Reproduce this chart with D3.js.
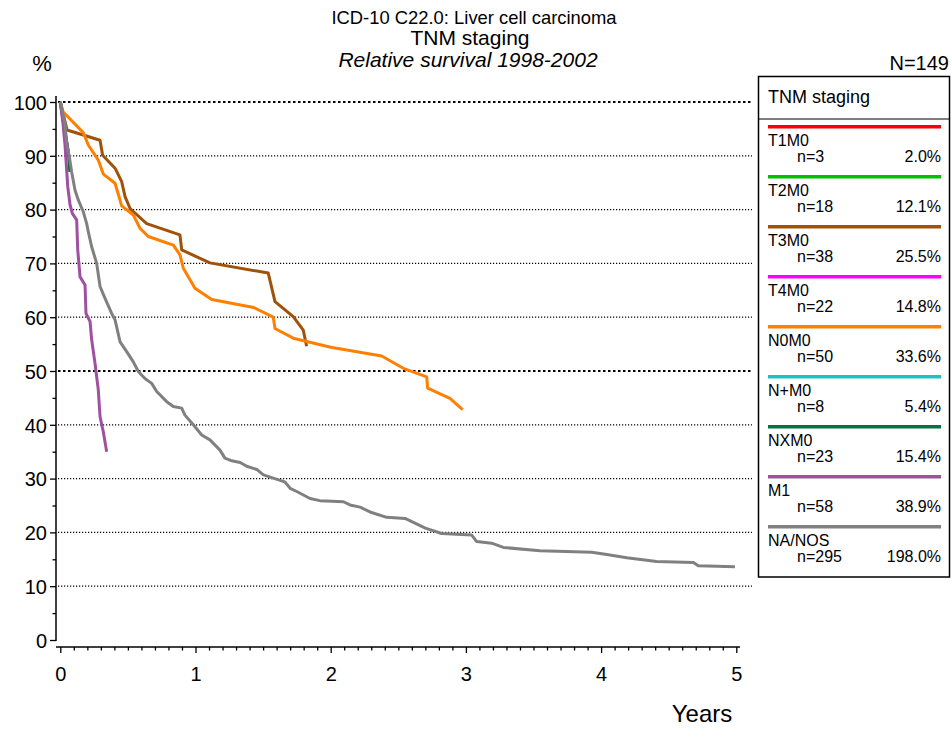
<!DOCTYPE html>
<html>
<head>
<meta charset="utf-8">
<script src="https://cdn.jsdelivr.net/npm/d3@7"></script>
<style>
  html, body { margin: 0; padding: 0; background: #fff; }
  svg { display: block; font-family: "Liberation Sans", Arial, sans-serif; }
</style>
</head>
<body>
<svg id="chart" width="951" height="729"></svg>
<script>
// ---- Data ----
const seriesNames = ["T1M0", "T2M0", "T3M0", "T4M0", "N0M0", "N+M0", "NXM0", "M1", "NA/NOS"];
const seriesCounts = [3, 18, 38, 22, 50, 8, 23, 58, 295];
const seriesPercents = ["2.0%", "12.1%", "25.5%", "14.8%", "33.6%", "5.4%", "15.4%", "38.9%", "198.0%"];
const seriesColors = ["#ff0000", "#00c000", "#a0520a", "#ff00ff", "#ff8000", "#20c0c0", "#0a7040", "#a050a0", "#808080"];

// curves: [years, relative survival %]
const t1m0Curve = [[0, 100]];
const t2m0Curve = [[0, 100]];
const t3m0Curve = [[0, 100], [0.05, 94.8], [0.294, 92.9], [0.313, 90.1], [0.405, 87.7], [0.454, 85.2],
  [0.479, 82.4], [0.516, 80.2], [0.639, 77.4], [0.885, 75.3], [0.898, 72.5], [1.107, 70.1],
  [1.538, 68.2], [1.588, 62.9], [1.723, 60.1], [1.797, 57.6], [1.822, 54.6]];
const t4m0Curve = [[0, 100], [0.058, 90.9]];
const n0m0Curve = [[0, 100], [0.02, 98.2], [0.17, 94.3], [0.207, 92], [0.281, 89.2], [0.318, 86.6],
  [0.405, 84.9], [0.454, 80.7], [0.54, 79], [0.59, 76.5], [0.651, 75], [0.836, 73.4], [0.885, 71.6],
  [0.91, 69.1], [0.996, 65.4], [1.12, 63.3], [1.43, 61.8], [1.575, 60], [1.588, 57.9], [1.723, 56.1],
  [2.0, 54.4], [2.377, 52.8], [2.537, 50.5], [2.71, 48.9], [2.717, 46.8], [2.882, 44.9], [2.976, 42.8]];
const nplusm0Curve = [[0, 100], [0.03, 96]];
const nxm0Curve = [[0, 100], [0.06, 90.5], [0.07, 87]];
const m1Curve = [[0, 100], [0.02, 96], [0.035, 92], [0.047, 87.4], [0.055, 84.3], [0.072, 80.9],
  [0.089, 79.3], [0.121, 78.1], [0.129, 72.5], [0.146, 67.5], [0.183, 66], [0.19, 60.7], [0.22, 59.2],
  [0.232, 55.8], [0.257, 51.4], [0.281, 46.5], [0.294, 41.5], [0.318, 38.7], [0.343, 35]];
const naNosCurve = [[0, 100], [0.035, 96], [0.047, 92.3], [0.067, 89.8], [0.084, 87], [0.109, 83.6],
  [0.133, 81.8], [0.17, 79.6], [0.195, 77.4], [0.207, 75.9], [0.232, 73.1], [0.269, 70], [0.294, 65.7],
  [0.331, 63.5], [0.38, 60.7], [0.405, 59.5], [0.442, 55.4], [0.491, 53.6], [0.54, 51.7], [0.577, 49.9],
  [0.626, 48.6], [0.676, 47.7], [0.713, 46.2], [0.787, 44.3], [0.836, 43.4], [0.898, 43.1], [0.922, 41.8],
  [0.984, 40], [1.046, 38.1], [1.107, 37.2], [1.181, 35.3], [1.218, 33.8], [1.268, 33.3], [1.33, 33],
  [1.379, 32.3], [1.453, 31.7], [1.502, 30.7], [1.575, 30.1], [1.66, 29.4], [1.7, 28.2], [1.749, 27.6],
  [1.847, 26.3], [1.92, 25.9], [2.094, 25.7], [2.143, 25.1], [2.217, 24.7], [2.291, 23.8], [2.414, 22.8],
  [2.55, 22.6], [2.70, 20.8], [2.82, 19.8], [3.043, 19.5], [3.08, 18.3], [3.19, 18], [3.277, 17.2],
  [3.548, 16.6], [3.931, 16.3], [4.042, 15.9], [4.19, 15.3], [4.41, 14.6], [4.682, 14.4], [4.719, 13.8],
  [4.99, 13.6]];
const seriesCurves = [t1m0Curve, t2m0Curve, t3m0Curve, t4m0Curve, n0m0Curve, nplusm0Curve, nxm0Curve, m1Curve, naNosCurve];

const xTickValues = [0, 1, 2, 3, 4, 5];
const yTickValues = [0, 10, 20, 30, 40, 50, 60, 70, 80, 90, 100];

const titleLine1 = "ICD-10 C22.0: Liver cell carcinoma";
const titleLine2 = "TNM staging";
const titleLine3 = "Relative survival 1998-2002";
const totalLabel = "N=149";
const legendTitle = "TNM staging";

// ---- Drawing ----
const svg = d3.select("#chart");
const x = d3.scaleLinear().domain([0, 5]).range([60.3, 736.3]);
const y = d3.scaleLinear().domain([0, 100]).range([640, 102]);
const yAxisX = 56;
const xAxisY = 647;

// titles
svg.append("text").attr("x", 474).attr("y", 24).attr("text-anchor", "middle")
  .attr("font-size", 18.4).text(titleLine1);
svg.append("text").attr("x", 470).attr("y", 45).attr("text-anchor", "middle")
  .attr("font-size", 21).text(titleLine2);
svg.append("text").attr("x", 468).attr("y", 67).attr("text-anchor", "middle")
  .attr("font-size", 21).attr("font-style", "italic").text(titleLine3);
svg.append("text").attr("x", 42).attr("y", 71).attr("text-anchor", "middle")
  .attr("font-size", 22).text("%");
svg.append("text").attr("x", 949).attr("y", 70).attr("text-anchor", "end")
  .attr("font-size", 20).text(totalLabel);

// gridlines
const grid = svg.append("g");
yTickValues.filter(v => v > 0).forEach(v => {
  const major = (v === 50 || v === 100);
  grid.append("line")
    .attr("x1", yAxisX + 2).attr("x2", 752)
    .attr("y1", y(v)).attr("y2", y(v))
    .attr("stroke", "#000")
    .attr("stroke-width", major ? 2 : 1.2)
    .attr("stroke-dasharray", major ? "2.5,2.5" : "1.2,1.8");
});

// y axis
const yAxisMajor = d3.axisLeft(y).tickValues(yTickValues).tickSize(6).tickPadding(3);
const gy = svg.append("g").attr("transform", `translate(${yAxisX},0)`).call(yAxisMajor);
gy.select(".domain").remove();
gy.selectAll("text").attr("font-size", 20).attr("font-family", "Liberation Sans, Arial, sans-serif")
  .attr("fill", "#000").attr("dy", "0.36em");
gy.selectAll("line").attr("stroke", "#000").attr("stroke-width", 1.3);
const yAxisMinor = d3.axisLeft(y).tickValues(d3.range(5, 100, 10)).tickSize(3.5).tickFormat("");
const gym = svg.append("g").attr("transform", `translate(${yAxisX},0)`).call(yAxisMinor);
gym.select(".domain").remove();
gym.selectAll("line").attr("stroke", "#000").attr("stroke-width", 1.3);
svg.append("line").attr("x1", yAxisX).attr("x2", yAxisX).attr("y1", 96).attr("y2", 641)
  .attr("stroke", "#000").attr("stroke-width", 1.5);

// x axis
const xAxisMajor = d3.axisBottom(x).tickValues(xTickValues).tickSize(6).tickPadding(14)
  .tickFormat(d3.format("d"));
const gx = svg.append("g").attr("transform", `translate(0,${xAxisY})`).call(xAxisMajor);
gx.select(".domain").remove();
gx.selectAll("text").attr("font-size", 20).attr("font-family", "Liberation Sans, Arial, sans-serif")
  .attr("fill", "#000");
gx.selectAll("line").attr("stroke", "#000").attr("stroke-width", 1.3);
const xAxisMinor = d3.axisBottom(x).tickValues(d3.range(1, 50).filter(i => i % 10 !== 0).map(i => i / 10))
  .tickSize(3.5).tickFormat("");
const gxm = svg.append("g").attr("transform", `translate(0,${xAxisY})`).call(xAxisMinor);
gxm.select(".domain").remove();
gxm.selectAll("line").attr("stroke", "#000").attr("stroke-width", 1.3);
svg.append("line").attr("x1", yAxisX).attr("x2", 740).attr("y1", xAxisY).attr("y2", xAxisY)
  .attr("stroke", "#000").attr("stroke-width", 1.5);

svg.append("text").attr("x", 702).attr("y", 722).attr("text-anchor", "middle")
  .attr("font-size", 24).text("Years");

// curves
const line = d3.line().x(d => x(d[0])).y(d => y(d[1]));
seriesCurves.forEach((c, i) => {
  if (c.length < 2) return;
  svg.append("path").datum(c).attr("d", line)
    .attr("fill", "none").attr("stroke", seriesColors[i])
    .attr("stroke-width", 3).attr("stroke-linejoin", "round");
});

// legend
const lg = svg.append("g");
lg.append("rect").attr("x", 758.5).attr("y", 76.5).attr("width", 191).attr("height", 500.5)
  .attr("fill", "#fff").attr("stroke", "#000").attr("stroke-width", 1.5);
lg.append("line").attr("x1", 758.5).attr("x2", 949.5).attr("y1", 119).attr("y2", 119)
  .attr("stroke", "#000").attr("stroke-width", 1);
lg.append("text").attr("x", 768).attr("y", 103).attr("font-size", 18).text(legendTitle);
seriesNames.forEach((name, i) => {
  const yy = 126.7 + i * 50;
  lg.append("line").attr("x1", 768).attr("x2", 941).attr("y1", yy).attr("y2", yy)
    .attr("stroke", seriesColors[i]).attr("stroke-width", 3.5);
  lg.append("text").attr("x", 768).attr("y", yy + 19.5).attr("font-size", 16).text(name);
  lg.append("text").attr("x", 797).attr("y", yy + 35.5).attr("font-size", 16).text("n=" + seriesCounts[i]);
  lg.append("text").attr("x", 941).attr("y", yy + 35.5).attr("font-size", 16)
    .attr("text-anchor", "end").text(seriesPercents[i]);
});
</script>
</body>
</html>
